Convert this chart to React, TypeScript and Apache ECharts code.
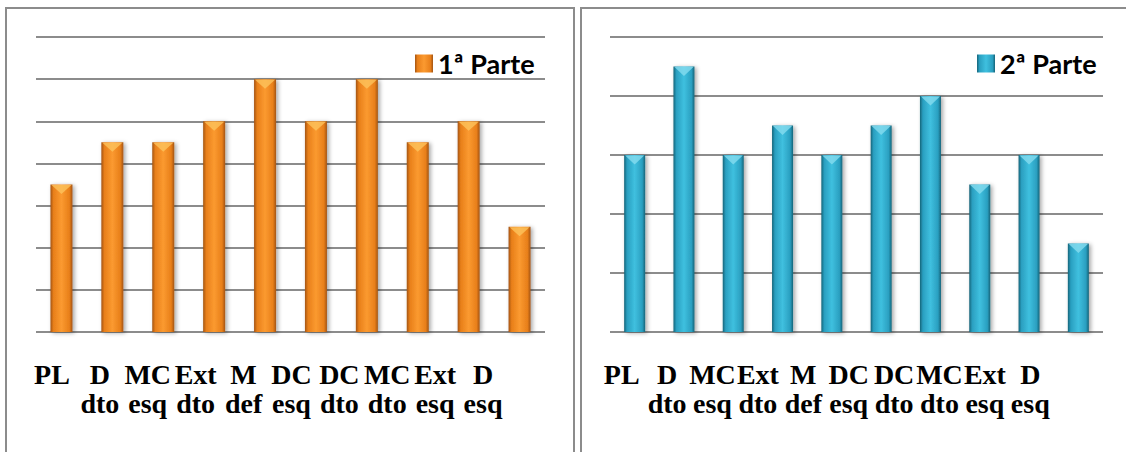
import React, { useEffect, useRef } from "react";
import * as echarts from "echarts";

const categories = ["PL", "D\ndto", "MC\nesq", "Ext\ndto", "M\ndef", "DC\nesq", "DC\ndto", "MC\ndto", "Ext\nesq", "D\nesq"];
const parte1 = [3.5, 4.5, 4.5, 5, 6, 5, 6, 4.5, 5, 2.5];
const parte2 = [3, 4.5, 3, 3.5, 3, 3.5, 4, 2.5, 3, 1.5];
const name1 = "1ª Parte";
const name2 = "2ª Parte";
const max1 = 7;
const max2 = 5;

const grad = (edge: string, mid: string, center: string) =>
  new echarts.graphic.LinearGradient(0, 0, 1, 0, [
    { offset: 0, color: edge },
    { offset: 0.14, color: mid },
    { offset: 0.5, color: center },
    { offset: 0.86, color: mid },
    { offset: 1, color: edge },
  ]);

export default function App() {
  const ref = useRef<HTMLDivElement>(null);
  useEffect(() => {
    const chart = echarts.init(ref.current!, null, { renderer: "svg" });
    const orange = grad("#a35412", "#e87f1a", "#fb9a30");
    const blue = grad("#156479", "#2a9fc0", "#3fc0df");
    const gridLine = { lineStyle: { color: "#8c8c8c", width: 2 } };
    const labelStyle = {
      interval: 0,
      fontFamily: "'Liberation Serif', 'Times New Roman', serif",
      fontWeight: "bold" as const,
      fontSize: 28,
      lineHeight: 29,
      color: "#000",
      margin: 28,
    };
    const hiddenY = { show: false, min: 0, max: 1 };
    const labelX = (gridIndex: number) => ({
      type: "category" as const,
      gridIndex,
      data: categories,
      axisLine: { show: false },
      axisTick: { show: false },
      axisLabel: labelStyle,
    });
    const barX = (gridIndex: number) => ({
      type: "category" as const,
      gridIndex,
      data: categories,
      axisLine: { show: false },
      axisTick: { show: false },
      axisLabel: { show: false },
    });
    const valueY = (gridIndex: number, max: number) => ({
      type: "value" as const,
      gridIndex,
      min: 0,
      max,
      interval: 1,
      axisLabel: { show: false },
      axisLine: { show: false },
      axisTick: { show: false },
      splitLine: gridLine,
    });
    const bar = (name: string, data: number[], axis: number, color: any, bw: number) => ({
      type: "bar" as const,
      name,
      data,
      xAxisIndex: axis,
      yAxisIndex: axis,
      barWidth: bw,
      itemStyle: {
        color,
        shadowColor: "rgba(0,0,0,0.35)",
        shadowBlur: 4,
        shadowOffsetX: 2,
        shadowOffsetY: 1,
      },
    });
    const cap = (data: number[], axis: number, color: string, bw: number) => ({
      type: "scatter" as const,
      name: "cap" + axis,
      data,
      xAxisIndex: axis,
      yAxisIndex: axis,
      symbol: "triangle",
      symbolRotate: 180,
      symbolSize: [bw - 2, 9],
      symbolOffset: [0, 5],
      itemStyle: { color },
      z: 5,
      silent: true,
    });
    const legendText = { fontFamily: "Lato, 'Open Sans', sans-serif", fontWeight: "bold", fontSize: 27, color: "#000" };
    chart.setOption({
      animation: false,
      backgroundColor: "#fff",
      grid: [
        { left: 36, top: 37, width: 509, height: 295 },
        { left: 28, top: 37, width: 479, height: 295 },
        { left: 610, top: 37, width: 493, height: 295 },
        { left: 599, top: 37, width: 454, height: 295 },
      ],
      xAxis: [barX(0), labelX(1), barX(2), labelX(3)],
      yAxis: [valueY(0, max1), { ...hiddenY, gridIndex: 1 }, valueY(2, max2), { ...hiddenY, gridIndex: 3 }],
      legend: [
        { data: [name1], left: 410, top: 45, icon: "rect", itemWidth: 18, itemHeight: 18, itemGap: 8, textStyle: legendText },
        { data: [name2], left: 972, top: 45, icon: "rect", itemWidth: 18, itemHeight: 18, itemGap: 8, textStyle: legendText },
      ],
      graphic: [
        { type: "rect", shape: { x: 6, y: 8, width: 568, height: 470 }, style: { fill: "none", stroke: "#8c8c8c", lineWidth: 2 }, silent: true },
        { type: "rect", shape: { x: 581, y: 8, width: 600, height: 470 }, style: { fill: "none", stroke: "#8c8c8c", lineWidth: 2 }, silent: true },
      ],
      series: [
        bar(name1, parte1, 0, orange, 22),
        cap(parte1, 0, "#fcc35c", 22),
        bar(name2, parte2, 2, blue, 21),
        cap(parte2, 2, "#86dcef", 21),
      ],
    });
    return () => chart.dispose();
  }, []);
  return <div ref={ref} style={{ position: "fixed", left: 0, top: 0, width: 1126, height: 452 }} />;
}
